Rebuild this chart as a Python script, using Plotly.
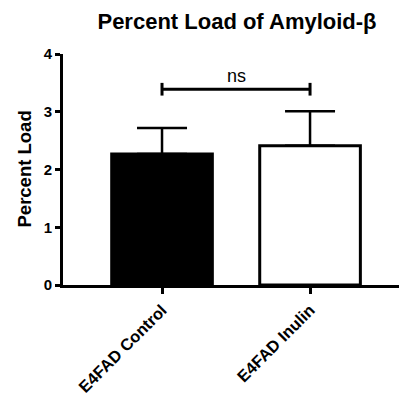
import plotly.graph_objects as go

categories = ["E4FAD Control", "E4FAD Inulin"]
means = [2.27, 2.41]
sems = [0.45, 0.60]
fill_colors = ["black", "white"]
y_ticks = [0, 1, 2, 3, 4]
sig_label = "ns"

FONT = "Liberation Sans, Arial, Helvetica, sans-serif"

fig = go.Figure()
fig.add_trace(go.Bar(
    x=categories, y=means, width=0.68,
    marker=dict(color=fill_colors, line=dict(color="black", width=3)),
    error_y=dict(type="data", array=sems, arrayminus=[0] * len(sems),
                 symmetric=False, color="black", thickness=2.5, width=25),
    showlegend=False,
))

# significance bracket
top = max(m + s for m, s in zip(means, sems))
yb = top + 0.38
h = 0.11
c0, c1 = categories
fig.add_trace(go.Scatter(
    x=[c0, c0, None, c0, c1, None, c1, c1],
    y=[yb + h, yb - h, None, yb, yb, None, yb + h, yb - h],
    mode="lines", line=dict(color="black", width=3),
    showlegend=False, hoverinfo="skip", cliponaxis=False,
))
fig.add_annotation(x=0.5, y=yb, xref="x", yref="y", text=sig_label,
                   showarrow=False, yanchor="bottom", yshift=1,
                   font=dict(family=FONT, size=18, color="black"))

fig.add_annotation(xref="paper", yref="paper", x=0.0, y=0.5,
                   xshift=-39, text="<b>Percent Load</b>", textangle=-90,
                   showarrow=False, xanchor="center", yanchor="middle",
                   font=dict(family=FONT, size=18.5, color="black"))

fig.update_layout(
    width=399, height=398,
    margin=dict(l=63, r=0, t=54, b=113),
    paper_bgcolor="white", plot_bgcolor="white",
    title=dict(text="<b>Percent Load of Amyloid-β</b>", xref="container",
               x=237 / 399, xanchor="center", y=1 - 21 / 398, yanchor="middle",
               font=dict(family=FONT, size=22, color="black")),
    font=dict(family=FONT, color="black"),
)
fig.update_xaxes(
    range=[-0.669, 1.601], showline=True, linecolor="black", linewidth=3,
    ticks="outside", ticklen=6, tickwidth=2.5, tickcolor="black",
    tickangle=-45, tickfont=dict(family=FONT, size=16.5, color="black"),
    showgrid=False, zeroline=False, automargin=False,
    tickvals=categories, ticktext=[f"<b>{c}</b>" for c in categories],
)
fig.update_yaxes(
    range=[0, 4], showline=True, linecolor="black", linewidth=3,
    ticks="outside", ticklen=5, tickwidth=2.5, tickcolor="black",
    tickvals=y_ticks, ticktext=[f"<b>{t}</b>" for t in y_ticks],
    tickfont=dict(family=FONT, size=15, color="black"),
    showgrid=False, zeroline=False, automargin=False,
)
fig.write_html(
    "out.html",
    config={"displayModeBar": False},
    post_script="document.body.style.margin='0';document.body.style.overflow='hidden';",
)
